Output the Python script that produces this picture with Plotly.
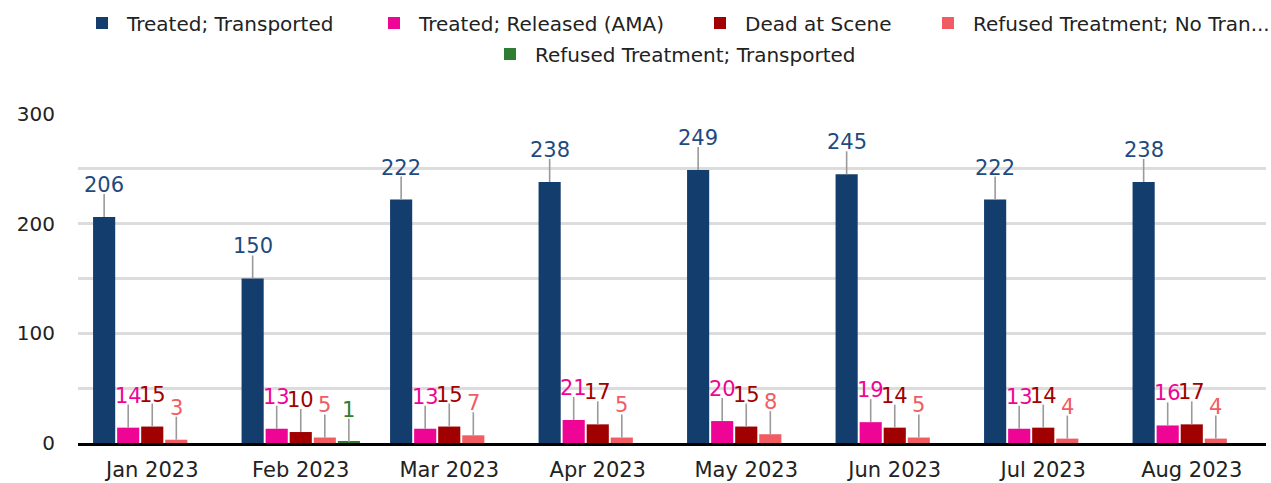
import plotly.graph_objects as go

months = ["Jan 2023", "Feb 2023", "Mar 2023", "Apr 2023", "May 2023", "Jun 2023", "Jul 2023", "Aug 2023"]
treated_transported = [206, 150, 222, 238, 249, 245, 222, 238]
treated_released = [14, 13, 13, 21, 20, 19, 13, 16]
dead_at_scene = [15, 10, 15, 17, 15, 14, 14, 17]
refused_no_transport = [3, 5, 7, 5, 8, 5, 4, 4]
refused_transported = [0, 1, 0, 0, 0, 0, 0, 0]

series_names = ["Treated; Transported", "Treated; Released (AMA)", "Dead at Scene",
                "Refused Treatment; No Tran...", "Refused Treatment; Transported"]
series_values = [treated_transported, treated_released, dead_at_scene,
                 refused_no_transport, refused_transported]
bar_colors = ["#133D6D", "#EE0595", "#A00000", "#F15C63", "#2E7D32"]
label_colors = ["#1F4A7E", "#EE0595", "#A00000", "#F15C63", "#2E7D32"]
legend_ids = ["legend", "legend2", "legend3", "legend4", "legend5"]
# legend entry placement (text start x in px, row centre y in px)
legend_text_x = [127, 419, 745, 973, 535]
legend_row_y = [23, 23, 23, 23, 54]

FONT = "DejaVu Sans"
LEADER = 21  # leader line length in data units
BARGAP = 0.19
n = len(series_values)
slot = (1 - BARGAP) / n
W, H = 1271, 483

fig = go.Figure()
for k, (name, vals) in enumerate(zip(series_names, series_values)):
    fig.add_trace(go.Bar(
        x=months, y=vals, name=name, marker_color=bar_colors[k], marker_line_width=0,
        legend=legend_ids[k],
        error_y=dict(type="data", symmetric=False,
                     array=[LEADER if v > 0 else 0 for v in vals],
                     arrayminus=[0] * len(vals), width=0, thickness=1.6,
                     color="#9A9A9A", visible=True),
    ))

annotations = []
for k, vals in enumerate(series_values):
    off = -(1 - BARGAP) / 2 + slot * (k + 0.5)
    for i, v in enumerate(vals):
        if v <= 0:
            continue
        annotations.append(dict(
            x=i + off, y=v + LEADER, xref="x", yref="y", text=str(v),
            showarrow=False, yanchor="bottom", xanchor="center", yshift=-5,
            font=dict(family=FONT, size=21, color=label_colors[k]),
        ))

legends = {}
for k, lid in enumerate(legend_ids):
    legends[lid] = dict(orientation="h", xanchor="left", yanchor="middle",
                        xref="container", yref="container",
                        x=(legend_text_x[k] - 50) / W, y=1 - legend_row_y[k] / H,
                        font=dict(family=FONT, size=20, color="#222222"),
                        itemwidth=40, bgcolor="rgba(0,0,0,0)", borderwidth=0)

fig.update_layout(
    width=W, height=H,
    margin=dict(l=78, r=5, t=114, b=40, autoexpand=False),
    barmode="group", bargap=BARGAP, bargroupgap=0.08,
    plot_bgcolor="white", paper_bgcolor="white",
    font=dict(family=FONT, color="#222222"),
    annotations=annotations,
    showlegend=True,
    **legends,
)
fig.update_xaxes(showline=True, linecolor="black", linewidth=3, showgrid=False,
                 tickfont=dict(family=FONT, size=21, color="#222222"),
                 ticklabelstandoff=6)
fig.update_yaxes(range=[0, 300], tickvals=[0, 50, 100, 150, 200, 250, 300],
                 ticktext=["0", "", "100", "", "200", "", "300"],
                 showgrid=True, gridcolor="#DCDCDC", gridwidth=2.5, zeroline=False,
                 showline=False, tickfont=dict(family=FONT, size=20, color="#222222"),
                 ticklabelstandoff=22)

fig.write_html("out.html", config={"displayModeBar": False},
               post_script="document.body.style.margin='0';")
